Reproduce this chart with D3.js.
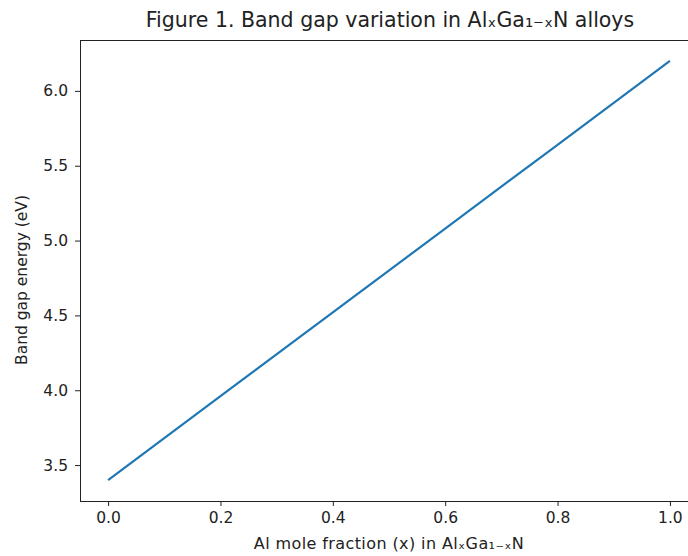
<!DOCTYPE html>
<html>
<head>
<meta charset="utf-8">
<script src="https://cdn.jsdelivr.net/npm/d3@7"></script>
<style>
  body { margin: 0; background: #fff; }
  text { font-family: "DejaVu Sans", sans-serif; fill: #222; }
</style>
</head>
<body>
<div id="chart"></div>
<script>
const fractions = [0.0, 0.2, 0.4, 0.6, 0.8, 1.0];
const bandGap = [3.4, 3.96, 4.52, 5.08, 5.64, 6.2];
const xTicks = [0.0, 0.2, 0.4, 0.6, 0.8, 1.0];
const yTicks = [3.5, 4.0, 4.5, 5.0, 5.5, 6.0];

const W = 688, H = 556;
const plot = { left: 80, right: 698, top: 40, bottom: 501 };

const svg = d3.select("#chart")
  .append("svg")
  .attr("width", W)
  .attr("height", H);

const x = d3.scaleLinear()
  .domain([-0.05, 1.05])
  .range([plot.left, plot.right]);

const y = d3.scaleLinear()
  .domain([3.26, 6.34])
  .range([plot.bottom, plot.top]);

// axes
const xAxis = svg.append("g")
  .attr("transform", `translate(0,${plot.bottom})`)
  .call(d3.axisBottom(x).tickValues(xTicks).tickFormat(d3.format(".1f")).tickSize(5).tickPadding(6));

const yAxis = svg.append("g")
  .attr("transform", `translate(${plot.left},0)`)
  .call(d3.axisLeft(y).tickValues(yTicks).tickFormat(d3.format(".1f")).tickSize(5).tickPadding(7));

[xAxis, yAxis].forEach(g => {
  g.select(".domain").remove();
  g.selectAll(".tick line").attr("stroke", "#222");
  g.selectAll(".tick text").style("font-size", "15.5px").attr("fill", "#222");
});

// frame (right side falls outside the window)
svg.append("rect")
  .attr("x", plot.left + 0.5)
  .attr("y", plot.top + 0.5)
  .attr("width", plot.right - plot.left)
  .attr("height", plot.bottom - plot.top)
  .attr("fill", "none")
  .attr("stroke", "#222")
  .attr("stroke-width", 1);

const line = d3.line()
  .x((d, i) => x(fractions[i]))
  .y(d => y(d));

svg.append("path")
  .datum(bandGap)
  .attr("d", line)
  .attr("fill", "none")
  .attr("stroke", "#1f77b4")
  .attr("stroke-width", 2.2);

// labels
svg.append("text")
  .attr("x", 390)
  .attr("y", 27)
  .attr("text-anchor", "middle")
  .style("font-size", "20.5px")
  .text("Figure 1. Band gap variation in AlₓGa₁₋ₓN alloys");

svg.append("text")
  .attr("x", 389)
  .attr("y", 549)
  .attr("text-anchor", "middle")
  .style("font-size", "16px")
  .style("letter-spacing", "0.4px")
  .text("Al mole fraction (x) in AlₓGa₁₋ₓN");

svg.append("text")
  .attr("transform", `translate(27,280) rotate(-90)`)
  .attr("text-anchor", "middle")
  .style("font-size", "15.5px")
  .text("Band gap energy (eV)");
</script>
</body>
</html>
